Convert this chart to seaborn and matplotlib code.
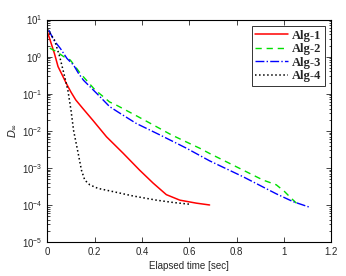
import numpy as np
import pandas as pd
import matplotlib
matplotlib.use("Agg")
import matplotlib.pyplot as plt
import matplotlib.ticker as mticker
import seaborn as sns

# Alg-1 (red, solid)
t1 = [0.0, 0.03, 0.045, 0.066, 0.08, 0.10, 0.12, 0.15, 0.193, 0.25, 0.32, 0.39, 0.447, 0.503, 0.56, 0.63, 0.686]
d1 = [4.7, 1.2, 0.54, 0.29, 0.19, 0.11, 0.068, 0.040, 0.019, 6.9e-3, 2.5e-3, 8.7e-4, 3.9e-4, 1.9e-4, 1.35e-4, 1.12e-4, 1.0e-4]

# Alg-2 (green, dashed)
t2 = [0.01, 0.04, 0.069, 0.097, 0.118, 0.14, 0.2, 0.263, 0.29, 0.369, 0.447, 0.524, 0.60, 0.644, 0.686, 0.771, 0.841, 0.912, 0.968, 1.003, 1.032, 1.067]
d2 = [1.7, 1.35, 1.0, 0.81, 0.54, 0.35, 0.13, 0.060, 0.050, 0.027, 0.0145, 7.8e-3, 4.6e-3, 3.4e-3, 2.45e-3, 1.32e-3, 7.9e-4, 4.7e-4, 3.5e-4, 2.3e-4, 1.5e-4, 9.3e-5]

# Alg-3 (blue, dash-dot)
t3 = [0.006, 0.027, 0.055, 0.083, 0.111, 0.132, 0.153, 0.18, 0.21, 0.263, 0.306, 0.376, 0.475, 0.588, 0.686, 0.827, 0.968, 1.039, 1.109]
d3 = [5.2, 2.8, 1.66, 0.89, 0.59, 0.35, 0.23, 0.155, 0.10, 0.045, 0.030, 0.0158, 7.8e-3, 3.4e-3, 1.55e-3, 5.8e-4, 2.0e-4, 1.23e-4, 8.7e-5]

# Alg-4 (black, dotted)
t4 = [0.0, 0.03, 0.052, 0.073, 0.087, 0.10, 0.111, 0.13, 0.144, 0.158, 0.179, 0.214, 0.277, 0.362, 0.461, 0.531, 0.60]
d4 = [5.5, 2.8, 1.0, 0.29, 0.12, 0.035, 0.01, 2.5e-3, 8.7e-4, 4.7e-4, 3.5e-4, 2.8e-4, 2.3e-4, 1.75e-4, 1.35e-4, 1.17e-4, 1.05e-4]

labels = ["Alg-1", "Alg-2", "Alg-3", "Alg-4"]
colors = ["#ff0000", "#00e000", "#0000ff", "#000000"]
styles = ["-", (0, (4.5, 3.5)), "-.", ":"]
widths = [1.1, 1.0, 1.0, 1.1]

x_ticks = [0, 0.2, 0.4, 0.6, 0.8, 1.0, 1.2]
x_ticklabels = ["0", "0.2", "0.4", "0.6", "0.8", "1", "1.2"]
y_ticks = [1e-5, 1e-4, 1e-3, 1e-2, 1e-1, 1e0, 1e1]

sns.set_style("ticks")
plt.rcParams["font.family"] = ["Liberation Sans", "DejaVu Sans"]

fig = plt.figure(figsize=(3.46, 2.76), dpi=100)
ax = fig.add_axes([0.137, 0.123, 0.820, 0.806])

for t, d, lab, c, ls, lw in zip([t1, t2, t3, t4], [d1, d2, d3, d4], labels, colors, styles, widths):
    sns.lineplot(x=t, y=d, ax=ax, color=c, linestyle=ls, linewidth=lw, label=lab, sort=False)

ax.set_yscale("log")
ax.set_xlim(0, 1.2)
ax.set_ylim(1e-5, 10)
ax.set_xticks(x_ticks)
ax.set_xticklabels(x_ticklabels)
ax.yaxis.set_major_locator(mticker.FixedLocator(y_ticks))
ax.yaxis.set_major_formatter(mticker.LogFormatterSciNotation())
ax.yaxis.set_minor_locator(mticker.LogLocator(base=10, subs=np.arange(2, 10), numticks=20))
ax.yaxis.set_minor_formatter(mticker.NullFormatter())
ax.tick_params(which="both", direction="in", top=True, right=True, labelsize=7, width=0.6)
ax.tick_params(which="major", length=3.5)
ax.tick_params(which="minor", length=1.8)
for sp in ax.spines.values():
    sp.set_linewidth(0.8)
    sp.set_color("black")

ax.set_xlabel("Elapsed time [sec]", fontsize=7, labelpad=3)
ax.set_ylabel(r"$D_{\infty}$", fontsize=7.5, family="DejaVu Serif", labelpad=3)

leg = ax.legend(loc="upper right", frameon=True, fancybox=False, edgecolor="black",
                prop={"family": "Liberation Serif", "weight": "bold", "size": 9},
                handlelength=2.6, borderpad=0.3, labelspacing=0.12, handletextpad=0.3,
                borderaxespad=0.5)
leg.get_frame().set_linewidth(0.7)

fig.savefig("out.png", dpi=100)
